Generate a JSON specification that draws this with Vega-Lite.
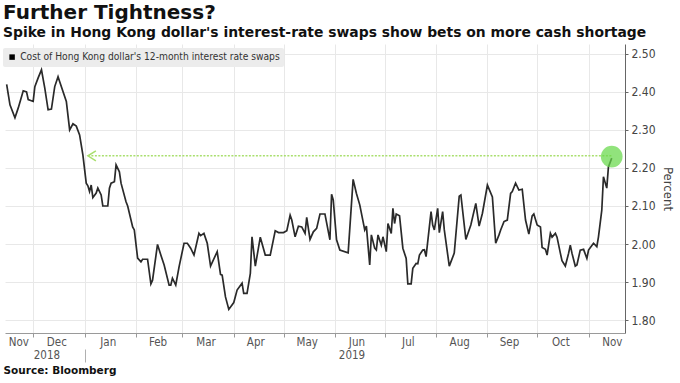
{
  "$schema": "https://vega.github.io/schema/vega-lite/v6.json",
  "width": 620,
  "height": 289,
  "autosize": {"type": "none"},
  "padding": {"left": 5, "top": 44, "right": 55, "bottom": 50},
  "background": "white",
  "title": {
    "text": "Further Tightness?",
    "subtitle": "Spike in Hong Kong dollar's interest-rate swaps show bets on more cash shortage",
    "anchor": "start",
    "frame": "group",
    "dx": -2,
    "offset": 4,
    "font": "DejaVu Sans",
    "fontSize": 20,
    "fontWeight": "bold",
    "color": "#111111",
    "subtitleFont": "DejaVu Sans",
    "subtitleFontSize": 13.9,
    "subtitleFontWeight": "bold",
    "subtitleColor": "#111111",
    "subtitlePadding": 3
  },
  "config": {
    "view": {"stroke": null},
    "axis": {"labelFont": "DejaVu Sans Condensed", "titleFont": "DejaVu Sans Condensed"}
  },
  "datasets": {
    "swap": [
      {"date": "2018-11-15", "value": 2.42},
      {"date": "2018-11-17", "value": 2.366},
      {"date": "2018-11-20", "value": 2.332},
      {"date": "2018-11-22", "value": 2.358},
      {"date": "2018-11-25", "value": 2.403},
      {"date": "2018-11-27", "value": 2.4},
      {"date": "2018-11-28", "value": 2.38},
      {"date": "2018-12-01", "value": 2.375},
      {"date": "2018-12-02", "value": 2.414},
      {"date": "2018-12-04", "value": 2.437},
      {"date": "2018-12-06", "value": 2.458},
      {"date": "2018-12-08", "value": 2.41},
      {"date": "2018-12-10", "value": 2.353},
      {"date": "2018-12-12", "value": 2.355},
      {"date": "2018-12-14", "value": 2.414},
      {"date": "2018-12-16", "value": 2.44},
      {"date": "2018-12-17", "value": 2.427},
      {"date": "2018-12-21", "value": 2.375},
      {"date": "2018-12-23", "value": 2.3},
      {"date": "2018-12-25", "value": 2.316},
      {"date": "2018-12-27", "value": 2.31},
      {"date": "2018-12-29", "value": 2.287},
      {"date": "2018-12-31", "value": 2.234},
      {"date": "2019-01-02", "value": 2.16},
      {"date": "2019-01-03", "value": 2.153},
      {"date": "2019-01-04", "value": 2.138},
      {"date": "2019-01-05", "value": 2.155},
      {"date": "2019-01-06", "value": 2.122},
      {"date": "2019-01-08", "value": 2.134},
      {"date": "2019-01-09", "value": 2.147},
      {"date": "2019-01-11", "value": 2.129},
      {"date": "2019-01-12", "value": 2.1},
      {"date": "2019-01-15", "value": 2.1},
      {"date": "2019-01-16", "value": 2.147},
      {"date": "2019-01-17", "value": 2.16},
      {"date": "2019-01-19", "value": 2.164},
      {"date": "2019-01-20", "value": 2.208},
      {"date": "2019-01-22", "value": 2.19},
      {"date": "2019-01-23", "value": 2.16},
      {"date": "2019-01-26", "value": 2.111},
      {"date": "2019-01-27", "value": 2.1},
      {"date": "2019-01-30", "value": 2.045},
      {"date": "2019-01-31", "value": 2.037},
      {"date": "2019-02-02", "value": 1.963},
      {"date": "2019-02-04", "value": 1.953},
      {"date": "2019-02-05", "value": 1.96},
      {"date": "2019-02-08", "value": 1.96},
      {"date": "2019-02-10", "value": 1.895},
      {"date": "2019-02-11", "value": 1.905},
      {"date": "2019-02-14", "value": 1.999},
      {"date": "2019-02-16", "value": 1.971},
      {"date": "2019-02-18", "value": 1.945},
      {"date": "2019-02-21", "value": 1.892},
      {"date": "2019-02-22", "value": 1.892},
      {"date": "2019-02-23", "value": 1.91},
      {"date": "2019-02-25", "value": 1.892},
      {"date": "2019-02-27", "value": 1.94},
      {"date": "2019-03-02", "value": 2.002},
      {"date": "2019-03-04", "value": 2.002},
      {"date": "2019-03-06", "value": 1.989},
      {"date": "2019-03-08", "value": 1.971},
      {"date": "2019-03-11", "value": 2.028},
      {"date": "2019-03-12", "value": 2.022},
      {"date": "2019-03-14", "value": 2.028},
      {"date": "2019-03-16", "value": 2.002},
      {"date": "2019-03-18", "value": 1.942},
      {"date": "2019-03-22", "value": 1.98},
      {"date": "2019-03-24", "value": 1.92},
      {"date": "2019-03-25", "value": 1.918},
      {"date": "2019-03-27", "value": 1.861},
      {"date": "2019-03-29", "value": 1.828},
      {"date": "2019-04-01", "value": 1.846},
      {"date": "2019-04-03", "value": 1.879},
      {"date": "2019-04-06", "value": 1.897},
      {"date": "2019-04-07", "value": 1.87},
      {"date": "2019-04-09", "value": 1.87},
      {"date": "2019-04-11", "value": 1.923},
      {"date": "2019-04-12", "value": 2.019},
      {"date": "2019-04-14", "value": 1.942},
      {"date": "2019-04-17", "value": 2.018},
      {"date": "2019-04-20", "value": 1.971},
      {"date": "2019-04-23", "value": 1.971},
      {"date": "2019-04-26", "value": 2.035},
      {"date": "2019-04-28", "value": 2.03},
      {"date": "2019-05-01", "value": 2.03},
      {"date": "2019-05-03", "value": 2.035},
      {"date": "2019-05-05", "value": 2.076},
      {"date": "2019-05-06", "value": 2.063},
      {"date": "2019-05-08", "value": 2.019},
      {"date": "2019-05-10", "value": 2.047},
      {"date": "2019-05-12", "value": 2.045},
      {"date": "2019-05-14", "value": 2.028},
      {"date": "2019-05-15", "value": 2.07},
      {"date": "2019-05-17", "value": 2.012},
      {"date": "2019-05-19", "value": 2.032},
      {"date": "2019-05-21", "value": 2.041},
      {"date": "2019-05-23", "value": 2.079},
      {"date": "2019-05-26", "value": 2.079},
      {"date": "2019-05-29", "value": 2.011},
      {"date": "2019-05-30", "value": 2.131},
      {"date": "2019-05-31", "value": 2.116},
      {"date": "2019-06-02", "value": 2.011},
      {"date": "2019-06-04", "value": 1.984},
      {"date": "2019-06-09", "value": 1.977},
      {"date": "2019-06-12", "value": 2.17},
      {"date": "2019-06-14", "value": 2.133},
      {"date": "2019-06-16", "value": 2.103},
      {"date": "2019-06-19", "value": 2.037},
      {"date": "2019-06-20", "value": 2.047},
      {"date": "2019-06-22", "value": 1.945},
      {"date": "2019-06-23", "value": 2.024},
      {"date": "2019-06-25", "value": 1.989},
      {"date": "2019-06-26", "value": 1.984},
      {"date": "2019-06-27", "value": 2.024},
      {"date": "2019-06-29", "value": 1.997},
      {"date": "2019-06-30", "value": 2.019},
      {"date": "2019-07-02", "value": 1.98},
      {"date": "2019-07-03", "value": 2.054},
      {"date": "2019-07-05", "value": 2.028},
      {"date": "2019-07-06", "value": 2.094},
      {"date": "2019-07-07", "value": 2.054},
      {"date": "2019-07-08", "value": 2.079},
      {"date": "2019-07-10", "value": 2.074},
      {"date": "2019-07-12", "value": 1.989},
      {"date": "2019-07-14", "value": 1.962},
      {"date": "2019-07-15", "value": 1.895},
      {"date": "2019-07-17", "value": 1.895},
      {"date": "2019-07-18", "value": 1.936},
      {"date": "2019-07-20", "value": 1.949},
      {"date": "2019-07-21", "value": 1.948},
      {"date": "2019-07-22", "value": 1.971},
      {"date": "2019-07-24", "value": 1.984},
      {"date": "2019-07-25", "value": 1.985},
      {"date": "2019-07-26", "value": 1.967},
      {"date": "2019-07-29", "value": 2.085},
      {"date": "2019-07-30", "value": 2.05},
      {"date": "2019-07-31", "value": 2.037},
      {"date": "2019-08-02", "value": 2.094},
      {"date": "2019-08-03", "value": 2.03},
      {"date": "2019-08-05", "value": 2.085},
      {"date": "2019-08-06", "value": 2.037},
      {"date": "2019-08-09", "value": 1.942},
      {"date": "2019-08-12", "value": 1.976},
      {"date": "2019-08-15", "value": 2.126},
      {"date": "2019-08-16", "value": 2.129},
      {"date": "2019-08-19", "value": 2.012},
      {"date": "2019-08-22", "value": 2.05},
      {"date": "2019-08-25", "value": 2.107},
      {"date": "2019-08-27", "value": 2.047},
      {"date": "2019-08-29", "value": 2.081},
      {"date": "2019-09-01", "value": 2.155},
      {"date": "2019-09-04", "value": 2.124},
      {"date": "2019-09-06", "value": 2.002},
      {"date": "2019-09-08", "value": 2.024},
      {"date": "2019-09-09", "value": 2.037},
      {"date": "2019-09-11", "value": 2.059},
      {"date": "2019-09-13", "value": 2.063},
      {"date": "2019-09-15", "value": 2.133},
      {"date": "2019-09-16", "value": 2.138},
      {"date": "2019-09-18", "value": 2.16},
      {"date": "2019-09-20", "value": 2.142},
      {"date": "2019-09-22", "value": 2.144},
      {"date": "2019-09-24", "value": 2.063},
      {"date": "2019-09-26", "value": 2.026},
      {"date": "2019-09-28", "value": 2.074},
      {"date": "2019-09-29", "value": 2.079},
      {"date": "2019-10-01", "value": 2.05},
      {"date": "2019-10-03", "value": 2.045},
      {"date": "2019-10-04", "value": 1.991},
      {"date": "2019-10-06", "value": 1.986},
      {"date": "2019-10-07", "value": 1.971},
      {"date": "2019-10-09", "value": 2.028},
      {"date": "2019-10-10", "value": 2.018},
      {"date": "2019-10-12", "value": 2.028},
      {"date": "2019-10-13", "value": 2.018},
      {"date": "2019-10-15", "value": 1.976},
      {"date": "2019-10-16", "value": 1.956},
      {"date": "2019-10-18", "value": 1.942},
      {"date": "2019-10-20", "value": 1.976},
      {"date": "2019-10-21", "value": 1.997},
      {"date": "2019-10-22", "value": 1.976},
      {"date": "2019-10-24", "value": 1.942},
      {"date": "2019-10-25", "value": 1.945},
      {"date": "2019-10-27", "value": 1.984},
      {"date": "2019-10-29", "value": 1.986},
      {"date": "2019-10-31", "value": 1.962},
      {"date": "2019-11-01", "value": 1.984},
      {"date": "2019-11-04", "value": 2.002},
      {"date": "2019-11-06", "value": 1.993},
      {"date": "2019-11-07", "value": 2.019},
      {"date": "2019-11-09", "value": 2.089},
      {"date": "2019-11-10", "value": 2.177},
      {"date": "2019-11-12", "value": 2.147},
      {"date": "2019-11-13", "value": 2.203},
      {"date": "2019-11-15", "value": 2.226}
    ],
    "arrow": [
      {"date": "2019-01-03", "date2": "2019-11-15", "value": 2.232}
    ],
    "highlight": [
      {"date": "2019-11-15", "value": 2.23}
    ]
  },
  "layer": [
    {
      "data": {"name": "swap"},
      "mark": {"type": "line", "strokeWidth": 1.6, "interpolate": "linear", "opacity": 0},
      "encoding": {
        "x": {
          "field": "date", "type": "temporal",
          "scale": {"domain": [{"year": 2018, "month": 11, "date": 14, "utc": true}, {"year": 2019, "month": 11, "date": 23, "utc": true}], "nice": false},
          "axis": {
            "orient": "bottom", "title": null, "labels": false, "grid": true, "gridColor": "#e8e8e8",
            "domain": true, "domainColor": "#9a9a9a", "ticks": true, "tickColor": "#9a9a9a", "tickSize": 4,
            "values": [
              {"year": 2018, "month": 12, "date": 1, "utc": true},
              {"year": 2019, "month": 1, "date": 1, "utc": true},
              {"year": 2019, "month": 2, "date": 1, "utc": true},
              {"year": 2019, "month": 3, "date": 1, "utc": true},
              {"year": 2019, "month": 4, "date": 1, "utc": true},
              {"year": 2019, "month": 5, "date": 1, "utc": true},
              {"year": 2019, "month": 6, "date": 1, "utc": true},
              {"year": 2019, "month": 7, "date": 1, "utc": true},
              {"year": 2019, "month": 8, "date": 1, "utc": true},
              {"year": 2019, "month": 9, "date": 1, "utc": true},
              {"year": 2019, "month": 10, "date": 1, "utc": true},
              {"year": 2019, "month": 11, "date": 1, "utc": true}
            ]
          }
        },
        "y": {
          "field": "value", "type": "quantitative",
          "scale": {"domain": [1.766, 2.526], "nice": false, "zero": false},
          "axis": {
            "orient": "right", "title": "Percent", "titleFontSize": 13, "titleFontWeight": "normal", "titleColor": "#444444",
            "titlePadding": 5,
            "values": [1.8, 1.9, 2.0, 2.1, 2.2, 2.3, 2.4, 2.5], "format": ".2f",
            "labelFontSize": 12, "labelColor": "#444444", "labelPadding": 3,
            "grid": true, "gridColor": "#e8e8e8",
            "domain": true, "domainColor": "#666666", "ticks": true, "tickColor": "#666666", "tickSize": 3
          }
        }
      }
    },
    {
      "data": {"name": "arrow"},
      "mark": {"type": "rule", "color": "#a9df6e", "strokeWidth": 1.5, "strokeDash": [2, 1.5]},
      "encoding": {
        "x": {
          "field": "date", "type": "temporal",
          "axis": {
            "orient": "bottom", "title": null, "grid": false, "domain": false, "ticks": false, "tickSize": 0,
            "labelPadding": 3, "labelFontSize": 11.5, "labelColor": "#555555",
            "values": [
              {"year": 2018, "month": 11, "date": 22, "utc": true},
              {"year": 2018, "month": 12, "date": 15, "utc": true},
              {"year": 2019, "month": 1, "date": 15, "utc": true},
              {"year": 2019, "month": 2, "date": 14, "utc": true},
              {"year": 2019, "month": 3, "date": 15, "utc": true},
              {"year": 2019, "month": 4, "date": 14, "utc": true},
              {"year": 2019, "month": 5, "date": 15, "utc": true},
              {"year": 2019, "month": 6, "date": 14, "utc": true},
              {"year": 2019, "month": 7, "date": 15, "utc": true},
              {"year": 2019, "month": 8, "date": 15, "utc": true},
              {"year": 2019, "month": 9, "date": 14, "utc": true},
              {"year": 2019, "month": 10, "date": 15, "utc": true},
              {"year": 2019, "month": 11, "date": 15, "utc": true}
            ],
            "labelExpr": "utcFormat(datum.value, '%b')",
            "labelOverlap": false
          }
        },
        "x2": {"field": "date2"},
        "y": {"field": "value", "type": "quantitative", "axis": null}
      }
    },
    {
      "data": {"name": "arrow"},
      "mark": {"type": "point", "shape": "M1.6,-1L0,0L1.6,1", "size": 100, "filled": false, "color": "#a9df6e", "strokeWidth": 1.5, "opacity": 1},
      "encoding": {
        "x": {
          "field": "date", "type": "temporal",
          "axis": {
            "orient": "bottom", "grid": false, "domain": false, "ticks": false, "tickSize": 0,
            "labelPadding": 16, "labelFontSize": 11.5, "labelColor": "#555555",
            "values": [
              {"year": 2018, "month": 12, "date": 9, "utc": true},
              {"year": 2019, "month": 6, "date": 11, "utc": true}
            ],
            "labelExpr": "utcFormat(datum.value, '%Y')",
            "labelOverlap": false,
            "title": "Source: Bloomberg",
            "titleFont": "DejaVu Sans",
            "titleFontWeight": "bold",
            "titleFontSize": 10.5,
            "titleColor": "#111111",
            "titleAnchor": "start",
            "titleAlign": "left",
            "titleBaseline": "alphabetic",
            "titleX": -2,
            "titleY": 40
          }
        },
        "y": {"field": "value", "type": "quantitative", "axis": null}
      }
    },
    {
      "data": {"name": "swap"},
      "mark": {"type": "line", "strokeWidth": 1.7, "interpolate": "linear"},
      "encoding": {
        "x": {"field": "date", "type": "temporal", "axis": null},
        "y": {"field": "value", "type": "quantitative", "axis": null},
        "color": {
          "datum": "Cost of Hong Kong dollar's 12-month interest rate swaps",
          "type": "nominal",
          "scale": {"range": ["#2a2a2a"]},
          "legend": {
            "title": null, "orient": "none", "legendX": -2, "legendY": 4,
            "fillColor": "#ececec", "padding": 4, "cornerRadius": 2,
            "symbolType": "square", "symbolSize": 30, "symbolFillColor": "#000000", "symbolStrokeColor": "#000000", "symbolStrokeWidth": 0,
            "labelFont": "DejaVu Sans Condensed", "labelFontSize": 10.2, "labelColor": "#333333", "labelLimit": 400, "labelOffset": 3
          }
        }
      }
    },
    {
      "data": {"name": "highlight"},
      "mark": {"type": "point", "shape": "circle", "filled": true, "size": 470, "color": "#66d84a", "opacity": 0.72},
      "encoding": {
        "x": {
          "field": "date", "type": "temporal",
          "axis": {
            "orient": "bottom", "title": null, "labels": false, "grid": false, "domain": false,
            "ticks": true, "tickSize": 13, "tickColor": "#b0b0b0", "offset": 16,
            "values": [{"year": 2019, "month": 1, "date": 1, "utc": true}]
          }
        },
        "y": {"field": "value", "type": "quantitative", "axis": null}
      }
    }
  ],
  "resolve": {"axis": {"x": "independent", "y": "independent"}}
}
